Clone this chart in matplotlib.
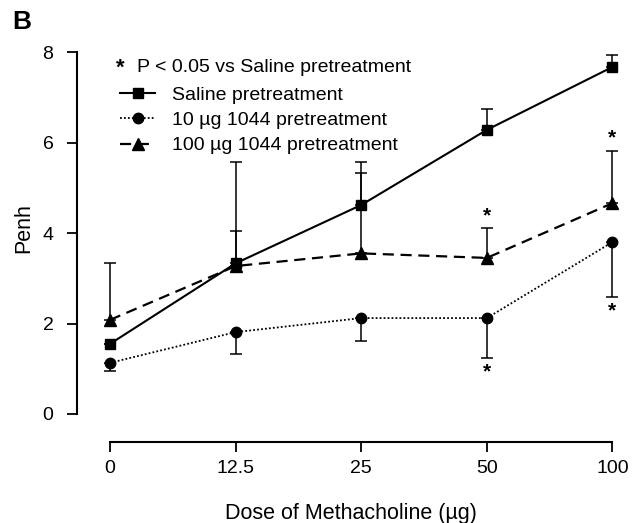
import matplotlib
matplotlib.use("Agg")
import matplotlib.pyplot as plt
from matplotlib.lines import Line2D

plt.rcParams['font.family'] = ['Liberation Sans', 'DejaVu Sans']

doses = ["0", "12.5", "25", "50", "100"]
saline = [1.55, 3.33, 4.62, 6.28, 7.67]
saline_err = [0.0, 0.72, 0.71, 0.46, 0.26]
low = [1.13, 1.81, 2.12, 2.12, 3.80]
low_err = [0.18, 0.48, 0.51, 0.88, 1.21]
high = [2.08, 3.27, 3.55, 3.45, 4.66]
high_err = [1.26, 2.30, 2.02, 0.66, 1.15]
star_x = [3, 4, 3, 4]
star_y = [4.38, 6.11, 0.93, 2.27]
labels = ['Saline pretreatment', '10 µg 1044 pretreatment', '100 µg 1044 pretreatment']

fig = plt.figure(figsize=(6.32, 5.23), dpi=100)
ax = fig.add_axes([77/632, (523-414)/523, (625-77)/632, (414-43)/523])
x = list(range(len(doses)))

styles = [dict(ls='-', lw=1.5, marker='s', ms=7),
          dict(ls=(0, (1, 1.2)), lw=1.3, marker='o', ms=7.5),
          dict(ls=(0, (5, 3)), lw=1.6, marker='^', ms=8)]

ax.errorbar(x, saline, yerr=[[0]*5, saline_err], color='black', capsize=4,
            elinewidth=1.1, capthick=1.1, clip_on=False, **styles[0])
ax.errorbar(x, low, yerr=[low_err, [0]*5], color='black', capsize=4,
            elinewidth=1.1, capthick=1.1, clip_on=False, **styles[1])
ax.errorbar(x, high, yerr=[[0]*5, high_err], color='black', capsize=4,
            elinewidth=1.1, capthick=1.1, clip_on=False, **styles[2])

for sx, sy in zip(star_x, star_y):
    ax.text(sx, sy, '*', ha='center', va='center', fontsize=15, fontweight='bold')

ax.set_xlim(-0.263, 4.10)
ax.set_ylim(0, 8.2)
ax.set_xticks(x)
ax.set_xticklabels(doses)
ax.set_yticks([0, 2, 4, 6, 8])
for s in ['top', 'right']:
    ax.spines[s].set_visible(False)
ax.spines['left'].set_bounds(0, 8)
ax.spines['bottom'].set_bounds(0, 4)
ax.spines['bottom'].set_position(('outward', 20))
ax.spines['left'].set_linewidth(1.5)
ax.spines['bottom'].set_linewidth(1.5)
ax.tick_params(axis='both', direction='out', length=7, width=1.3, labelsize=14)
ax.tick_params(axis='y', pad=10)
ax.tick_params(axis='x', pad=6)
ax.set_ylabel('Penh', fontsize=15.5, labelpad=6)
ax.set_xlabel('Dose of Methacholine (µg)', fontsize=15.5, labelpad=19)

fig.text(120/632, 1-68/523, '*', fontsize=16, fontweight='bold', va='center', ha='center')
fig.text(137/632, 1-67/523, 'P < 0.05 vs Saline pretreatment', fontsize=14, va='center', ha='left')
handles = [Line2D([], [], color='black', **st) for st in styles]
leg = ax.legend(handles, labels, loc='upper left', bbox_to_anchor=((120-77)/548, (414-86)/371),
                frameon=False, fontsize=14, handlelength=1.8, handletextpad=0.9,
                labelspacing=0.4, borderaxespad=0, borderpad=0)
fig.text(12/632, 1-22/523, 'B', fontsize=19, fontweight='bold', va='center')

fig.savefig('out.png', dpi=100)
